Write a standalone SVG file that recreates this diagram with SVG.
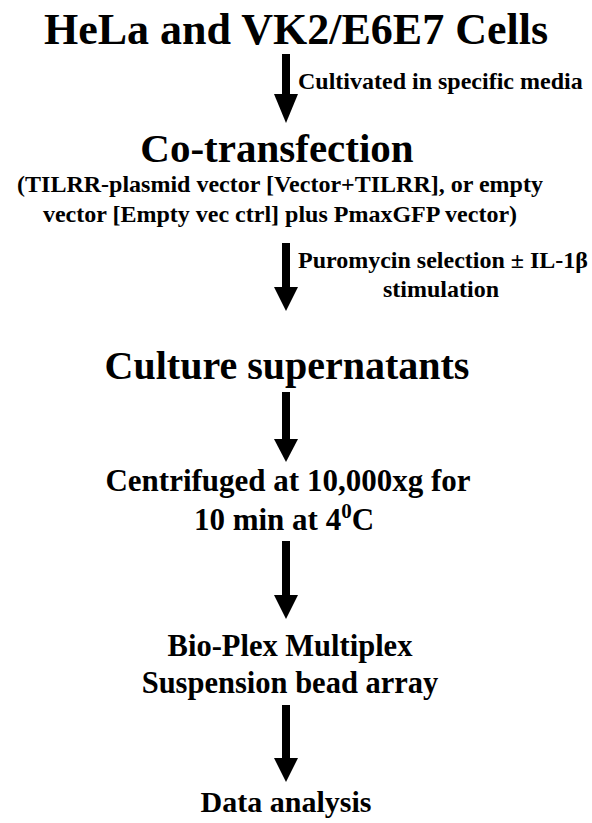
<svg xmlns="http://www.w3.org/2000/svg" width="592" height="823" viewBox="0 0 592 823">
<defs>
<style>
text{font-family:"Liberation Serif","Times New Roman",serif;font-weight:bold;fill:#000}
.c{text-anchor:middle}
.shaft{fill:#000}
.head{fill:#000}
</style>
</defs>
<rect width="592" height="823" fill="#fff"/>
<g id="n1"><text class="c" x="296" y="44" font-size="44">HeLa and VK2/E6E7 Cells</text></g>
<g id="n2">
<text class="c" x="277" y="162" font-size="41">Co-transfection</text>
<text class="c" x="280" y="192" font-size="24">(TILRR-plasmid vector [Vector+TILRR], or empty</text>
<text class="c" x="280" y="222" font-size="24">vector [Empty vec ctrl] plus PmaxGFP vector)</text>
</g>
<g id="n3"><text class="c" x="287" y="379" font-size="40">Culture supernatants</text></g>
<g id="n4">
<text class="c" x="288" y="491" font-size="31">Centrifuged at 10,000xg for</text>
<text class="c" x="284" y="530" font-size="31">10 min at 4<tspan font-size="21" dy="-12">0</tspan><tspan dy="12">C</tspan></text>
</g>
<g id="n5">
<text class="c" x="290" y="656" font-size="30.5">Bio-Plex Multiplex</text>
<text class="c" x="290" y="693" font-size="30.5">Suspension bead array</text>
</g>
<g id="n6"><text class="c" x="286" y="812" font-size="30">Data analysis</text></g>
<g id="connectors">
<g id="e1">
<rect class="shaft" x="282" y="54" width="8" height="42"/>
<path class="head" d="M274,94 L298,94 L286,123 Z"/>
<text x="298" y="89" font-size="24">Cultivated in specific media</text>
</g>
<g id="e2">
<rect class="shaft" x="282" y="243" width="8" height="46"/>
<path class="head" d="M274,287 L298,287 L286,311 Z"/>
<text class="c" x="443" y="268" font-size="24">Puromycin selection ± IL-1β</text>
<text class="c" x="441" y="297" font-size="24">stimulation</text>
</g>
<g id="e3">
<rect class="shaft" x="282" y="392" width="8" height="49"/>
<path class="head" d="M274,439 L298,439 L286,462 Z"/>
</g>
<g id="e4">
<rect class="shaft" x="282" y="541" width="8" height="56"/>
<path class="head" d="M274,595 L298,595 L286,619 Z"/>
</g>
<g id="e5">
<rect class="shaft" x="282" y="705" width="8" height="55"/>
<path class="head" d="M274,758 L298,758 L286,782 Z"/>
</g>
</g>
</svg>
